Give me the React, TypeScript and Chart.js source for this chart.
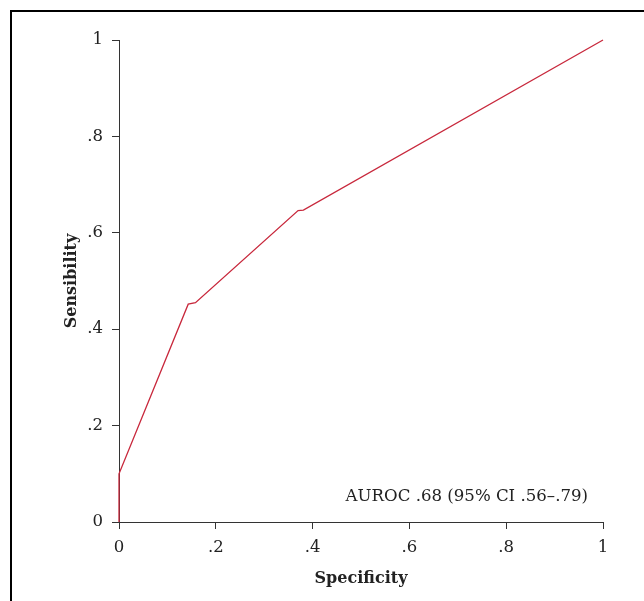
import React, { useEffect, useRef } from "react";
import { Chart, registerables } from "chart.js";

Chart.register(...registerables);

// ROC curve points: specificity axis (x) vs sensibility (y)
const specificity = [0, 0, 0.143, 0.158, 0.37, 0.381, 1];
const sensibility = [0, 0.1, 0.452, 0.455, 0.646, 0.647, 1];
const xTickLabels = ["0", ".2", ".4", ".6", ".8", "1"];
const yTickLabels = ["0", ".2", ".4", ".6", ".8", "1"];
const annotationText = "AUROC .68 (95% CI .56–.79)";
const annotationX = 0.969;
const annotationY = 0.052;

const FONT = "'DejaVu Serif', serif";
const AXIS = "#333333";
const LINE = "#c8283c";

const annotationPlugin = {
  id: "aurocLabel",
  afterDatasetsDraw(chart: any) {
    const { ctx, scales } = chart;
    const px = scales.x.getPixelForValue(annotationX);
    const py = scales.y.getPixelForValue(annotationY);
    ctx.save();
    ctx.font = `16.6px ${FONT}`;
    ctx.fillStyle = "#222222";
    ctx.textAlign = "right";
    ctx.textBaseline = "middle";
    ctx.fillText(annotationText, px, py);
    ctx.restore();
  },
};

export default function App() {
  const ref = useRef<HTMLCanvasElement | null>(null);

  useEffect(() => {
    if (!ref.current) return;
    const data = specificity.map((x, i) => ({ x, y: sensibility[i] }));
    const chart = new Chart(ref.current, {
      type: "line",
      data: {
        datasets: [
          {
            data,
            borderColor: LINE,
            borderWidth: 1.3,
            pointRadius: 0,
            tension: 0,
            fill: false,
            clip: false as any,
          },
        ],
      },
      options: {
        animation: false,
        responsive: false,
        maintainAspectRatio: false,
        layout: { padding: { left: 0, top: 40, right: 41, bottom: 0 } },
        plugins: {
          legend: { display: false },
          tooltip: { enabled: false },
        },
        scales: {
          x: {
            type: "linear",
            min: 0,
            max: 1,
            afterFit: (s: any) => {
              s.height = 79;
            },
            ticks: {
              stepSize: 0.2,
              padding: 9,
              color: "#222222",
              font: { family: FONT, size: 16.5 },
              callback: (_v: any, i: number) => xTickLabels[i],
            },
            grid: {
              display: true,
              drawOnChartArea: false,
              drawTicks: true,
              tickLength: 7,
              color: AXIS,
              lineWidth: 1,
            },
            border: { display: true, color: AXIS, width: 1 },
            title: {
              display: true,
              text: "Specificity",
              color: "#222222",
              font: { family: FONT, size: 16, weight: "bold" },
              padding: { top: 0, bottom: 13 },
            },
          },
          y: {
            type: "linear",
            min: 0,
            max: 1,
            afterFit: (s: any) => {
              s.width = 119;
            },
            ticks: {
              stepSize: 0.2,
              padding: 9,
              color: "#222222",
              font: { family: FONT, size: 16.5 },
              callback: (_v: any, i: number) => yTickLabels[i],
            },
            grid: {
              display: true,
              drawOnChartArea: false,
              drawTicks: true,
              tickLength: 7,
              color: AXIS,
              lineWidth: 1,
            },
            border: { display: true, color: AXIS, width: 1 },
            title: {
              display: true,
              text: "Sensibility",
              color: "#222222",
              font: { family: FONT, size: 16, weight: "bold" },
              padding: { top: 62, bottom: 0 },
            },
          },
        },
      },
      plugins: [annotationPlugin],
    });
    return () => chart.destroy();
  }, []);

  return (
    <div style={{ position: "fixed", left: 0, top: 0, width: 644, height: 601, background: "#fff" }}>
      <div
        style={{
          position: "absolute",
          left: 10,
          top: 10,
          width: 700,
          height: 700,
          borderTop: "2px solid #000",
          borderLeft: "2px solid #000",
        }}
      />
      <canvas ref={ref} width={644} height={601} style={{ position: "absolute", left: 0, top: 0 }} />
    </div>
  );
}
